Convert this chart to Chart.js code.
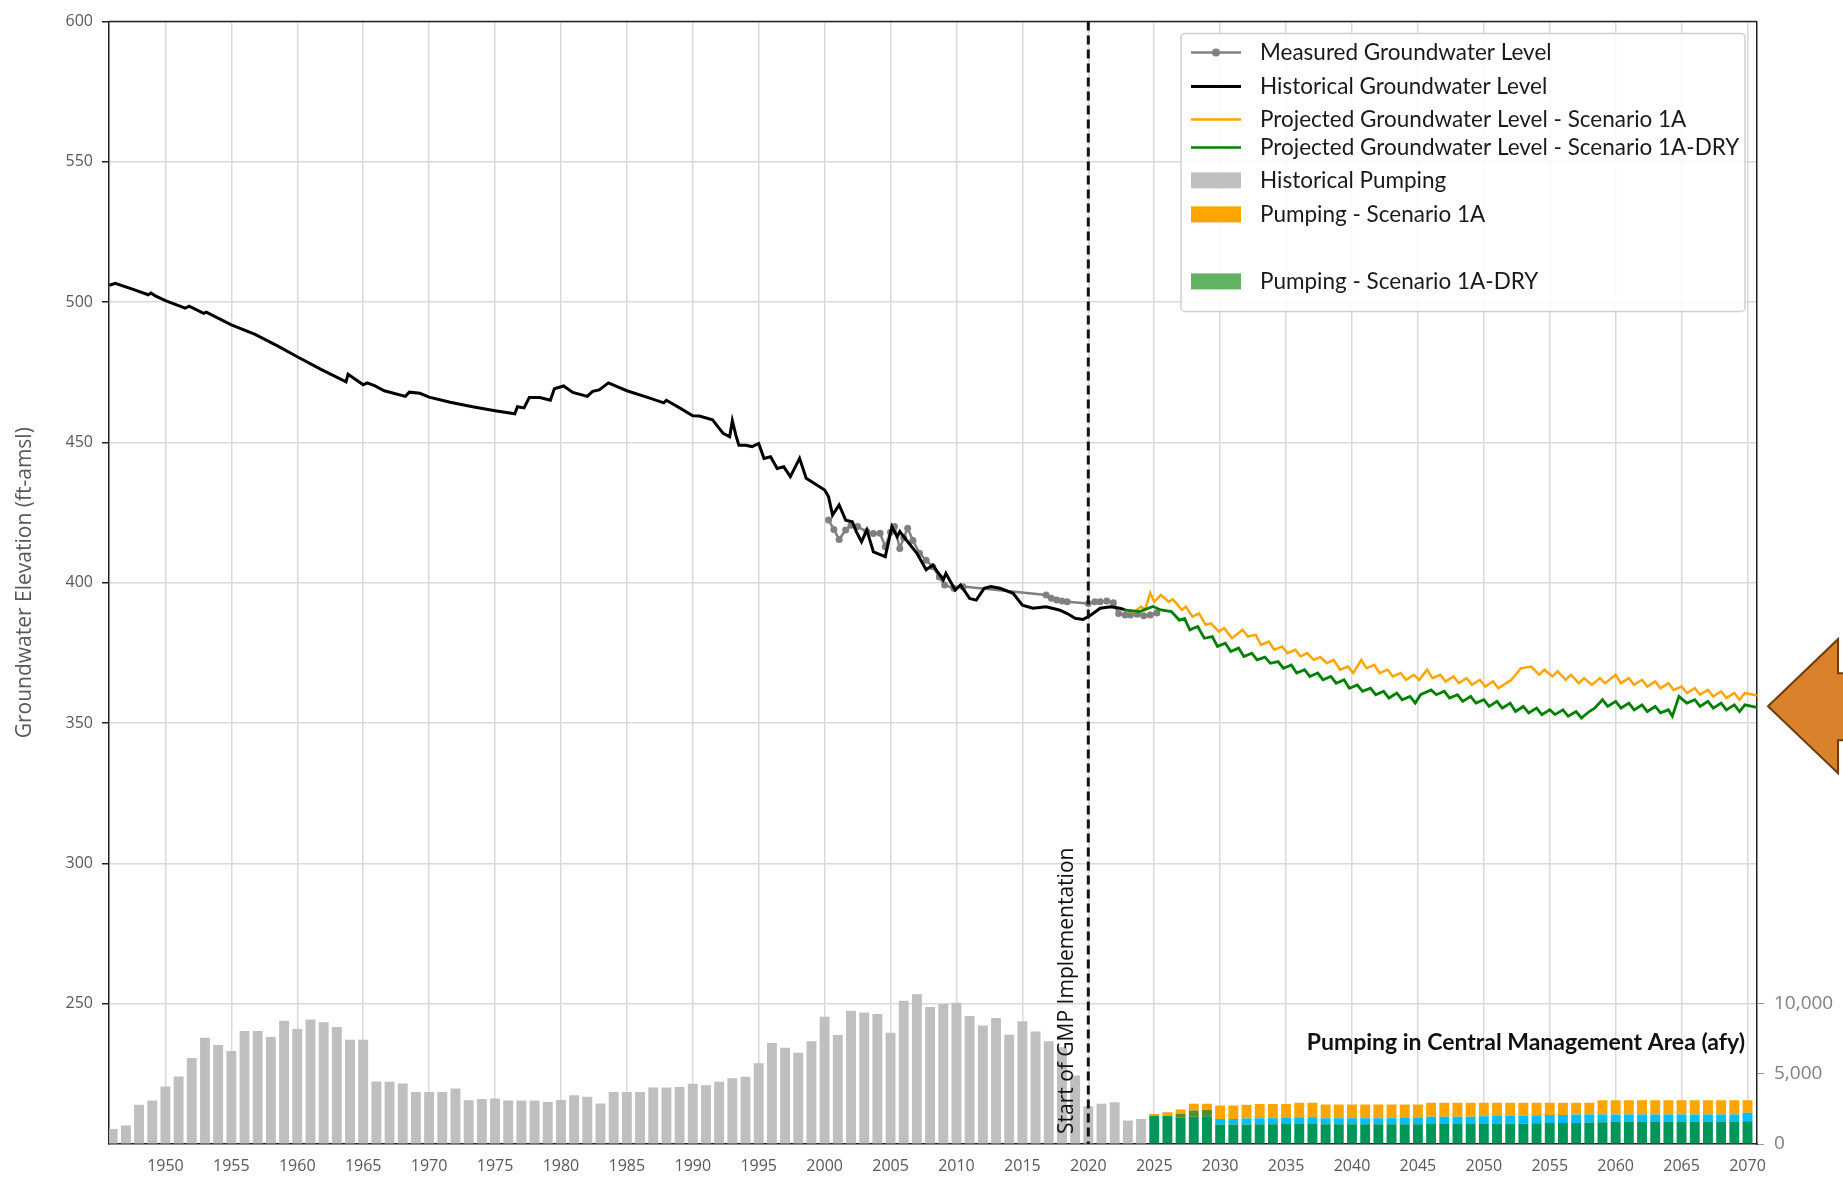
<!DOCTYPE html>
<html>
<head>
<meta charset="utf-8">
<script src="https://cdn.jsdelivr.net/npm/chart.js@4.4.0/dist/chart.umd.min.js"></script>
<style>
  html, body { margin: 0; padding: 0; background: #fff; }
  #wrap { width: 1843px; height: 1180px; position: relative; }
</style>
</head>
<body>
<div id="wrap"><canvas id="chart"></canvas></div>
<script>
// Уровни воды (ft-amsl)
const histLevelYears = [1945.75, 1946.2, 1947.6, 1948.7, 1948.9, 1949.2, 1950.0, 1951.5, 1951.8, 1952.9, 1953.1, 1955.0, 1956.8, 1958.5, 1960.0, 1961.8, 1963.7, 1963.85, 1965.0, 1965.3, 1965.9, 1966.6, 1968.2, 1968.5, 1969.3, 1970.0, 1971.6, 1973.3, 1975.0, 1976.5, 1976.7, 1977.2, 1977.6, 1978.4, 1979.2, 1979.5, 1980.2, 1980.9, 1982.0, 1982.4, 1982.9, 1983.6, 1985.0, 1986.8, 1987.8, 1988.0, 1989.0, 1990.0,
  1990.5, 1991.5, 1992.3, 1992.8, 1993.0, 1993.3, 1993.5, 1994.0, 1994.5, 1995.0, 1995.4, 1995.9, 1996.4, 1996.9, 1997.4, 1998.1, 1998.6, 1999.2, 2000.0, 2000.3, 2000.6, 2001.1, 2001.6, 2002.1, 2002.4, 2002.8, 2003.2, 2003.7, 2004.6, 2005.1, 2005.5, 2005.7, 2006.2, 2007.0, 2007.7, 2008.2, 2009.0, 2009.2, 2009.9, 2010.3, 2011.0, 2011.5, 2012.1, 2012.6, 2013.3, 2014.3, 2015.0, 2015.8, 2016.8, 2017.8, 2018.4, 2019.0, 2019.6, 2020.2, 2020.9, 2021.7, 2022.4, 2022.8];
const histLevelValues = [506.0, 506.7, 504.4, 502.6, 503.2, 502.3, 500.5, 497.8, 498.5, 496.0, 496.4, 491.9, 488.5, 484.4, 480.5, 476.0, 471.6, 474.3, 470.5, 471.2, 470.1, 468.4, 466.4, 467.9, 467.5, 466.1, 464.3, 462.7, 461.3, 460.2, 462.7, 462.3, 466.0, 466.0, 465.0, 469.1, 470.1, 467.8, 466.4, 468.2, 468.7, 471.2, 468.4, 465.7, 464.1, 465.0, 462.3, 459.5,
  459.4, 458.0, 453.2, 452.0, 457.7, 452.0, 449.0, 449.0, 448.5, 449.6, 444.3, 444.9, 440.7, 441.3, 437.8, 444.3, 437.2, 435.4, 433.0, 430.6, 424.1, 427.7, 422.3, 421.7, 418.2, 414.6, 418.8, 411.0, 409.3, 420.0, 416.4, 418.2, 415.2, 410.5, 404.6, 406.3, 401.0, 403.3, 397.4, 399.2, 394.4, 393.8, 398.0, 398.6, 398.0, 396.2, 392.0, 390.9, 391.4, 390.3, 389.0, 387.3, 386.9, 388.5, 390.9, 391.4, 390.9, 390.3];

const measuredYears = [2000.3, 2000.7, 2001.1, 2001.6, 2002.0, 2002.5, 2003.2, 2003.7, 2004.2, 2004.6, 2005.0, 2005.3, 2005.7, 2006.0, 2006.3, 2006.7, 2007.2, 2007.7, 2008.2, 2008.7, 2009.1, 2009.8, 2010.5, 2016.8, 2017.2, 2017.6, 2018.0, 2018.4, 2020.0, 2020.5, 2020.9, 2021.4, 2021.9, 2022.3, 2022.8, 2023.2, 2023.7, 2024.2, 2024.7, 2025.2];
const measuredValues = [422.3, 419.0, 415.4, 418.8, 420.5, 420.0, 418.2, 417.5, 417.6, 412.8, 418.0, 420.0, 412.2, 416.0, 419.4, 415.0, 410.5, 408.0, 405.7, 402.0, 399.2, 398.0, 398.6, 395.6, 394.5, 393.8, 393.5, 393.2, 392.6, 393.2, 393.2, 393.5, 392.9, 389.0, 388.5, 388.5, 388.8, 388.2, 388.5, 389.2];

const proj1AYears = [2022.7, 2023.5, 2024.0, 2024.3, 2024.7, 2025.0, 2025.5, 2026.1, 2026.4, 2027.1, 2027.4, 2027.9, 2028.4, 2028.9, 2029.3, 2029.9, 2030.3, 2030.9, 2031.7, 2032.1, 2032.7, 2033.1, 2033.7, 2034.1, 2034.7, 2035.1, 2035.7, 2036.1, 2036.6, 2037.1, 2037.6, 2038.1, 2038.6, 2039.1, 2039.7, 2040.1, 2040.7, 2041.1, 2041.7, 2042.1, 2042.7, 2043.1, 2043.7, 2044.1, 2044.7, 2045.1, 2045.7, 2046.1, 2046.7, 2047.1, 2047.7, 2048.1, 2048.7, 2049.1, 2049.7, 2050.1, 2050.7, 2051.1, 2051.7, 2052.1, 2052.8, 2053.6, 2054.2, 2054.6, 2055.2, 2055.6, 2056.2, 2056.6, 2057.2, 2057.6, 2058.2, 2058.8, 2059.2, 2060.0, 2060.4, 2061.0, 2061.4, 2062.0, 2062.4, 2063.0, 2063.4, 2064.0, 2064.4, 2065.0, 2065.4, 2066.0, 2066.4, 2067.0, 2067.4, 2068.0, 2068.4, 2069.0, 2069.4, 2069.8, 2070.7];
const proj1AValues = [390.3, 389.7, 391.5, 390.3, 396.4, 393.2, 395.6, 393.2, 394.1, 390.3, 391.5, 387.9, 389.1, 385.0, 385.5, 382.6, 383.8, 380.2, 383.2, 380.8, 381.4, 377.8, 379.0, 376.1, 377.3, 374.9, 376.1, 373.7, 374.9, 372.5, 373.5, 371.3, 372.5, 369.0, 370.1, 367.8, 372.5, 369.5, 370.7, 367.8, 369.0, 366.6, 367.8, 365.4, 367.2, 365.4, 369.0, 366.0, 367.2, 364.8, 366.6, 364.2, 366.0, 363.6, 365.4, 363.0, 364.8, 362.4, 364.2, 365.4, 369.5, 370.1, 367.2, 369.0, 366.6, 368.4, 365.4, 367.2, 364.2, 366.0, 363.6, 366.0, 364.2, 367.2, 364.2, 366.0, 363.6, 365.4, 363.0, 364.8, 362.4, 364.2, 361.8, 363.0, 360.7, 362.4, 360.1, 361.8, 359.5, 361.3, 358.9, 360.7, 358.3, 360.7, 359.8];

const projDryYears = [2022.7, 2023.9, 2024.9, 2025.5, 2026.3, 2026.9, 2027.3, 2027.7, 2028.3, 2028.8, 2029.4, 2029.8, 2030.4, 2030.8, 2031.4, 2031.8, 2032.4, 2032.8, 2033.4, 2033.8, 2034.4, 2034.8, 2035.4, 2035.8, 2036.4, 2036.8, 2037.4, 2037.8, 2038.4, 2038.8, 2039.4, 2039.8, 2040.4, 2040.8, 2041.4, 2041.8, 2042.4, 2042.8, 2043.4, 2043.8, 2044.4, 2044.8, 2045.2, 2046.0, 2046.4, 2047.0, 2047.4, 2048.0, 2048.4, 2049.0, 2049.4, 2050.0, 2050.4, 2051.0, 2051.4, 2052.0, 2052.4, 2053.0, 2053.4, 2054.0, 2054.4, 2055.0, 2055.4, 2056.0, 2056.4, 2057.0, 2057.4, 2058.0, 2058.4, 2059.0, 2059.4, 2060.0, 2060.4, 2061.0, 2061.4, 2062.0, 2062.4, 2063.0, 2063.4, 2064.0, 2064.3, 2064.8, 2065.4, 2066.0, 2066.4, 2067.0, 2067.4, 2068.0, 2068.4, 2069.0, 2069.4, 2069.8, 2070.7];
const projDryValues = [390.3, 389.7, 391.5, 390.3, 389.7, 386.7, 387.3, 383.2, 384.4, 380.2, 380.8, 377.3, 378.4, 375.5, 376.7, 373.7, 374.9, 372.5, 373.5, 371.3, 371.9, 369.5, 370.7, 367.8, 369.0, 366.6, 367.8, 365.4, 366.6, 364.2, 365.4, 362.4, 363.6, 361.3, 362.4, 360.1, 361.3, 358.9, 360.7, 358.3, 359.5, 357.1, 360.1, 361.8, 360.1, 361.3, 358.9, 360.1, 357.7, 359.5, 357.1, 358.3, 355.9, 357.7, 355.3, 357.1, 354.1, 355.9, 353.6, 355.3, 353.0, 354.7, 353.0, 354.7, 352.4, 354.1, 351.8, 354.1, 355.3, 358.3, 355.9, 357.7, 355.3, 357.1, 354.7, 356.5, 354.1, 355.9, 353.6, 354.7, 352.4, 359.5, 357.1, 358.3, 355.9, 357.7, 355.3, 357.1, 354.7, 356.5, 354.1, 356.5, 355.6];

// Откачка (afy)
const histPumpYears = [1946, 1947, 1948, 1949, 1950, 1951, 1952, 1953, 1954, 1955, 1956, 1957, 1958, 1959, 1960, 1961, 1962, 1963, 1964, 1965, 1966, 1967, 1968, 1969, 1970, 1971, 1972, 1973, 1974, 1975, 1976, 1977, 1978, 1979, 1980, 1981, 1982, 1983, 1984, 1985, 1986, 1987, 1988, 1989, 1990, 1991, 1992, 1993, 1994, 1995, 1996, 1997, 1998, 1999, 2000, 2001, 2002, 2003, 2004, 2005, 2006, 2007, 2008, 2009, 2010, 2011, 2012, 2013, 2014, 2015, 2016, 2017, 2018, 2019, 2020, 2021, 2022, 2023, 2024];
const histPumpValues = [1070, 1310, 2790, 3100, 4100, 4810, 6120, 7570, 7050, 6620, 8050, 8050, 7620, 8790, 8190, 8880, 8670, 8330, 7430, 7430, 4450, 4430, 4310, 3710, 3710, 3710, 3950, 3120, 3210, 3240, 3100, 3100, 3100, 3000, 3140, 3480, 3360, 2880, 3710, 3710, 3710, 4020, 4020, 4070, 4290, 4190, 4430, 4690, 4790, 5760, 7190, 6860, 6500, 7330, 9070, 7760, 9500, 9380, 9260, 7930, 10210, 10670, 9760, 9980, 10070, 9120, 8450, 8980, 7790, 8740, 8020, 7330, 6900, 4880, 2690, 2860, 2980, 1670, 1790];

const projPumpYears = [2025, 2026, 2027, 2028, 2029, 2030, 2031, 2032, 2033, 2034, 2035, 2036, 2037, 2038, 2039, 2040, 2041, 2042, 2043, 2044, 2045, 2046, 2047, 2048, 2049, 2050, 2051, 2052, 2053, 2054, 2055, 2056, 2057, 2058, 2059, 2060, 2061, 2062, 2063, 2064, 2065, 2066, 2067, 2068, 2069, 2070];
const pumpDryValues = [2020, 2020, 1900, 1950, 1980, 1390, 1390, 1390, 1410, 1410, 1430, 1430, 1430, 1410, 1410, 1410, 1410, 1410, 1410, 1410, 1410, 1430, 1430, 1430, 1430, 1430, 1450, 1450, 1460, 1480, 1500, 1500, 1500, 1530, 1550, 1580, 1600, 1600, 1600, 1600, 1600, 1600, 1600, 1600, 1600, 1620];
const pumpOverlapValues = [0, 0, 240, 430, 450, 0, 0, 0, 0, 0, 0, 0, 0, 0, 0, 0, 0, 0, 0, 0, 0, 0, 0, 0, 0, 0, 0, 0, 0, 0, 0, 0, 0, 0, 0, 0, 0, 0, 0, 0, 0, 0, 0, 0, 0, 0];
const pumpMidValues = [0, 0, 0, 0, 0, 400, 400, 420, 420, 430, 460, 480, 480, 430, 430, 430, 430, 430, 430, 450, 450, 520, 520, 520, 520, 550, 540, 560, 560, 560, 560, 560, 600, 580, 550, 520, 500, 500, 500, 500, 500, 500, 500, 500, 500, 600];
const pump1AValues = [120, 240, 310, 480, 430, 960, 960, 990, 1020, 1010, 960, 1030, 1030, 980, 980, 980, 980, 980, 980, 960, 960, 990, 990, 990, 990, 960, 950, 930, 920, 900, 880, 880, 840, 830, 1010, 1010, 1010, 1010, 1010, 1010, 1010, 1010, 1010, 1010, 1010, 890];

const xTickYears = [1950, 1955, 1960, 1965, 1970, 1975, 1980, 1985, 1990, 1995, 2000, 2005, 2010, 2015, 2020, 2025, 2030, 2035, 2040, 2045, 2050, 2055, 2060, 2065, 2070];
const levelTicks = [250, 300, 350, 400, 450, 500, 550, 600];
const pumpTicks = [0, 5000, 10000];

const toPoints = (xs, ys) => xs.map((x, i) => ({x: x, y: ys[i]}));

const TICK_FONT = {family: 'Open Sans', size: 16};
const TICK_COLOR = '#595959';

// Рамка, линия GMP, подписи, стрелка и легенда
const overlayPlugin = {
    id: 'overlay',
    afterDatasetsDraw(chart) {
        const ctx = chart.ctx;
        const area = chart.chartArea;
        const x = chart.scales.x;
        const y = chart.scales.y;

        ctx.save();
        // верхняя граница
        ctx.strokeStyle = '#222';
        ctx.lineWidth = 1.5;
        ctx.beginPath();
        ctx.moveTo(area.left, area.top);
        ctx.lineTo(area.right, area.top);
        ctx.stroke();

        // Start of GMP Implementation
        const gx = x.getPixelForValue(2020);
        ctx.strokeStyle = '#111';
        ctx.lineWidth = 3;
        ctx.setLineDash([9, 5]);
        ctx.beginPath();
        ctx.moveTo(gx, area.top);
        ctx.lineTo(gx, area.bottom);
        ctx.stroke();
        ctx.setLineDash([]);

        ctx.save();
        ctx.translate(gx - 21, area.bottom - 10);
        ctx.rotate(-Math.PI / 2);
        ctx.fillStyle = '#111';
        ctx.font = '21px "Open Sans"';
        ctx.textAlign = 'left';
        ctx.textBaseline = 'middle';
        ctx.fillText('Start of GMP Implementation', 0, 0);
        ctx.restore();

        // подпись откачки
        ctx.fillStyle = '#111';
        ctx.font = 'bold 23px Lato';
        ctx.textAlign = 'right';
        ctx.textBaseline = 'middle';
        ctx.fillText('Pumping in Central Management Area (afy)', area.right - 12, 1043);

        // стрелка справа
        const ty = y.getPixelForValue(356);
        const tx = area.right + 11;
        ctx.fillStyle = '#d9822b';
        ctx.strokeStyle = '#6b3d10';
        ctx.lineWidth = 2;
        ctx.beginPath();
        ctx.moveTo(tx, ty);
        ctx.lineTo(tx + 70, ty - 67);
        ctx.lineTo(tx + 70, ty - 33);
        ctx.lineTo(tx + 120, ty - 33);
        ctx.lineTo(tx + 120, ty + 34);
        ctx.lineTo(tx + 70, ty + 34);
        ctx.lineTo(tx + 70, ty + 67);
        ctx.closePath();
        ctx.fill();
        ctx.stroke();

        // легенда
        const lx = area.right - 576, ly = area.top + 12, lw = 564, lh = 278;
        ctx.fillStyle = 'rgba(255,255,255,0.85)';
        ctx.strokeStyle = '#d0d0d0';
        ctx.lineWidth = 1.5;
        ctx.beginPath();
        ctx.roundRect(lx, ly, lw, lh, 4);
        ctx.fill();
        ctx.stroke();

        const items = [
            {dy: 19, text: 'Measured Groundwater Level', kind: 'marker', color: '#808080'},
            {dy: 53, text: 'Historical Groundwater Level', kind: 'line', color: '#000000', w: 3},
            {dy: 86, text: 'Projected Groundwater Level - Scenario 1A', kind: 'line', color: '#ffa500', w: 2.5},
            {dy: 114, text: 'Projected Groundwater Level - Scenario 1A-DRY', kind: 'line', color: '#008000', w: 2.5},
            {dy: 147, text: 'Historical Pumping', kind: 'box', color: '#bfbfbf'},
            {dy: 181, text: 'Pumping - Scenario 1A', kind: 'box', color: '#ffa500'},
            {dy: 248, text: 'Pumping - Scenario 1A-DRY', kind: 'box', color: '#63b163'}
        ];
        ctx.font = '22.5px Lato';
        ctx.textAlign = 'left';
        ctx.textBaseline = 'middle';
        items.forEach(it => {
            const cy = ly + it.dy;
            const sx = lx + 10;
            if (it.kind === 'box') {
                ctx.fillStyle = it.color;
                ctx.fillRect(sx, cy - 8, 50, 16);
            } else {
                ctx.strokeStyle = it.color;
                ctx.lineWidth = it.w || 2.5;
                ctx.beginPath();
                ctx.moveTo(sx, cy);
                ctx.lineTo(sx + 50, cy);
                ctx.stroke();
                if (it.kind === 'marker') {
                    ctx.fillStyle = it.color;
                    ctx.beginPath();
                    ctx.arc(sx + 25, cy, 4, 0, Math.PI * 2);
                    ctx.fill();
                }
            }
            ctx.fillStyle = '#1a1a1a';
            ctx.fillText(it.text, lx + 79, cy);
        });
        ctx.restore();
    }
};

const ctx = document.getElementById('chart').getContext('2d');
new Chart(ctx, {
    type: 'bar',
    data: {
        datasets: [
            {
                type: 'line', label: 'Projected Groundwater Level - Scenario 1A-DRY',
                data: toPoints(projDryYears, projDryValues), yAxisID: 'y',
                borderColor: '#008000', borderWidth: 2.8, pointRadius: 0, tension: 0, order: 1
            },
            {
                type: 'line', label: 'Projected Groundwater Level - Scenario 1A',
                data: toPoints(proj1AYears, proj1AValues), yAxisID: 'y',
                borderColor: '#ffa500', borderWidth: 2.5, pointRadius: 0, tension: 0, order: 2
            },
            {
                type: 'line', label: 'Historical Groundwater Level',
                data: toPoints(histLevelYears, histLevelValues), yAxisID: 'y',
                borderColor: '#000000', borderWidth: 3, pointRadius: 0, tension: 0, order: 3
            },
            {
                type: 'line', label: 'Measured Groundwater Level',
                data: toPoints(measuredYears, measuredValues), yAxisID: 'y',
                borderColor: '#808080', backgroundColor: '#808080', borderWidth: 2.5,
                pointRadius: 3.5, pointBorderWidth: 0, tension: 0, order: 4
            },
            {
                label: 'Historical Pumping', data: toPoints(histPumpYears, histPumpValues),
                yAxisID: 'y2', backgroundColor: '#bfbfbf', grouped: false, order: 10
            },
            {
                label: 'Pumping - Scenario 1A-DRY', data: toPoints(projPumpYears, pumpDryValues),
                yAxisID: 'y2', backgroundColor: '#00965a', grouped: false, order: 10
            },
            {
                label: 'overlap', data: toPoints(projPumpYears, pumpOverlapValues),
                yAxisID: 'y2', backgroundColor: '#5b8c23', grouped: false, order: 10
            },
            {
                label: '', data: toPoints(projPumpYears, pumpMidValues),
                yAxisID: 'y2', backgroundColor: '#00bfff', grouped: false, order: 10
            },
            {
                label: 'Pumping - Scenario 1A', data: toPoints(projPumpYears, pump1AValues),
                yAxisID: 'y2', backgroundColor: '#ffa500', grouped: false, order: 10
            }
        ]
    },
    options: {
        responsive: true,
        maintainAspectRatio: false,
        devicePixelRatio: 1,
        animation: false,
        layout: {padding: {top: 21, left: 0, right: 0, bottom: 0}},
        datasets: {bar: {barPercentage: 0.75, categoryPercentage: 1}},
        plugins: {legend: {display: false}, tooltip: {enabled: false}},
        scales: {
            x: {
                type: 'linear', min: 1945.72, max: 2070.72, offset: false,
                afterBuildTicks: s => { s.ticks = xTickYears.map(v => ({value: v})); },
                afterFit: s => { s.height = 36; },
                ticks: {font: TICK_FONT, color: TICK_COLOR, padding: 13, maxRotation: 0, autoSkip: false,
                    callback: v => String(v)},
                grid: {color: '#d9d9d9', lineWidth: 1.5, drawTicks: false, offset: false},
                border: {color: '#222', width: 1.5}
            },
            y: {
                position: 'left', min: 200, max: 600,
                afterBuildTicks: s => { s.ticks = levelTicks.map(v => ({value: v})); },
                afterFit: s => { s.width = 109; },
                title: {display: true, text: 'Groundwater Elevation (ft-amsl)', color: TICK_COLOR,
                    font: {family: 'Open Sans', size: 21}, padding: {top: 12, bottom: 0}},
                ticks: {font: TICK_FONT, color: TICK_COLOR, padding: 9},
                grid: {color: '#d9d9d9', lineWidth: 1.5, tickColor: '#222', tickLength: 7},
                border: {color: '#222', width: 1.5}
            },
            y2: {
                position: 'right', min: 0, max: 80000, stacked: true,
                afterBuildTicks: s => { s.ticks = pumpTicks.map(v => ({value: v})); },
                afterFit: s => { s.width = 86; },
                ticks: {font: {family: 'Open Sans', size: 19}, color: '#808080', padding: 10,
                    callback: v => v.toLocaleString('en-US')},
                grid: {drawOnChartArea: false, tickColor: '#999', tickLength: 7},
                border: {color: '#222', width: 1.5}
            }
        }
    },
    plugins: [overlayPlugin]
});
</script>
</body>
</html>
